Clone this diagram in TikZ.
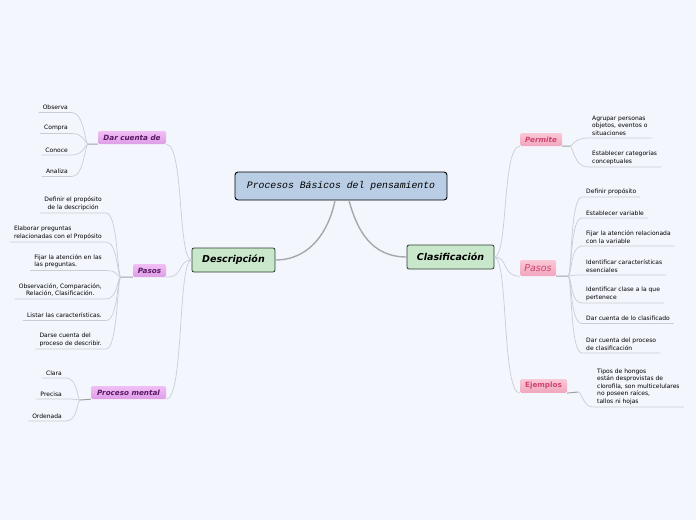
\documentclass[tikz,border=0pt]{standalone}
\usepackage{fontspec}
\setmainfont{DejaVu Sans}[ItalicFont={DejaVu Sans Oblique},BoldFont={DejaVu Sans Bold},BoldItalicFont={DejaVu Sans Bold Oblique}]
\newfontfamily\rootfont{Liberation Mono}
\usetikzlibrary{positioning}

\definecolor{bgcol}{RGB}{244,246,254}
\definecolor{rootfill}{RGB}{185,205,229}
\definecolor{mainfill}{RGB}{201,232,203}
\definecolor{mainedge}{RGB}{45,60,45}
\definecolor{subtop}{RGB}{242,190,246}
\definecolor{subbot}{RGB}{221,158,230}
\definecolor{subtext}{RGB}{88,24,98}
\definecolor{rsubtop}{RGB}{250,200,214}
\definecolor{rsubbot}{RGB}{240,166,190}
\definecolor{rsubtext}{RGB}{208,66,112}
\definecolor{trunkgray}{RGB}{168,168,172}
\definecolor{twiggray}{RGB}{204,204,212}
\definecolor{stubgray}{RGB}{160,160,164}

\begin{document}
\begin{tikzpicture}[x=1pt, y=-1pt,
      topbox/.style={draw=black, line width=0.9pt, fill=rootfill, rounded corners=3pt,
                     minimum width=212pt, minimum height=28pt,
                     font=\rootfont\itshape\fontsize{9.8}{11}\selectfont},        % central idea
      mainbox/.style={draw=mainedge, line width=0.8pt, fill=mainfill, rounded corners=2pt,
                      minimum height=24pt, font=\bfseries\itshape\fontsize{9.5}{11}\selectfont},
      subbox/.style={top color=subtop, bottom color=subbot, rounded corners=1.5pt,
                     minimum height=13pt, inner xsep=2pt, text=subtext,
                     font=\bfseries\itshape\fontsize{7.2}{8}\selectfont},          % left branches
      rsubbox/.style={subbox, top color=rsubtop, bottom color=rsubbot, text=rsubtext}, % right branches
      leaf/.style={inner xsep=4pt, inner ysep=2.5pt, font=\fontsize{6}{7.5}\selectfont},
      trunk/.style={draw=trunkgray, line width=1.4pt},
      twig/.style={draw=twiggray, line width=0.7pt},
      stub/.style={draw=stubgray, line width=1pt}]
    \fill[bgcol] (0,0) rectangle (696,520);
    \useasboundingbox (0,0) rectangle (696,520);

    % centre and the two main ideas
    \node[topbox]                           (top)  at (341,186)   {Procesos Básicos del pensamiento};
    \node[mainbox, minimum width=83pt]      (desc) at (233.5,260) {Descripción};
    \node[mainbox, minimum width=87pt]      (clas) at (450.5,257) {Clasificación};

    % branches
    \node[subbox, minimum width=68pt]       (darc) at (132,137.5) {Dar cuenta de};
    \node[subbox, minimum width=33pt]       (pasl) at (149.5,270.5) {Pasos};
    \node[subbox, minimum width=75pt]       (proc) at (128.5,392.5) {Proceso mental};
    \node[rsubbox, minimum width=42pt]      (perm) at (541,139.5) {Permite};
    \node[rsubbox, minimum width=36pt, minimum height=16pt,
          font=\itshape\fontsize{9.5}{11}\selectfont] (pasr) at (538,268) {Pasos};
    \node[rsubbox, minimum width=47pt, minimum height=12pt,
          font=\bfseries\fontsize{7.2}{8}\selectfont] (ejem) at (543.5,386) {Ejemplos};

    % leaves: Dar cuenta de
    \node[leaf, anchor=south east] (dc1) at (72,112.5) {Observa};
    \node[leaf, anchor=south east] (dc2) at (72,133.5) {Compra};
    \node[leaf, anchor=south east] (dc3) at (72,155)   {Conoce};
    \node[leaf, anchor=south east] (dc4) at (72,176.5) {Analiza};

    % leaves: Pasos (Descripción)
    \node[leaf, anchor=south east, align=center] (pl1) at (106,213)   {Definir el propósito\\de la descripción};
    \node[leaf, anchor=south east, align=left]   (pl2) at (106,242)   {Elaborar preguntas\\relacionadas con el Propósito};
    \node[leaf, anchor=south east, align=left]   (pl3) at (106,270.5) {Fijar la atención en las\\las preguntas.};
    \node[leaf, anchor=south east, align=center] (pl4) at (106,299)   {Observación, Comparación,\\Relación, Clasificación.};
    \node[leaf, anchor=south east]               (pl5) at (106,320.5) {Listar las características.};
    \node[leaf, anchor=south east, align=left]   (pl6) at (106,349)   {Darse cuenta del\\proceso de describir.};

    % leaves: Proceso mental
    \node[leaf, anchor=south east] (pm1) at (66,378) {Clara};
    \node[leaf, anchor=south east] (pm2) at (66,399) {Precisa};
    \node[leaf, anchor=south east] (pm3) at (66,421) {Ordenada};

    % leaves: Permite
    \node[leaf, anchor=south west, align=left] (pe1) at (588,138) {Agrupar personas\\objetos, eventos o\\situaciones};
    \node[leaf, anchor=south west, align=left] (pe2) at (588,167) {Establecer categorías\\conceptuales};

    % leaves: Pasos (Clasificación)
    \node[leaf, anchor=south west]             (pr1) at (582,197)   {Definir propósito};
    \node[leaf, anchor=south west]             (pr2) at (582,218)   {Establecer variable};
    \node[leaf, anchor=south west, align=left] (pr3) at (582,246)   {Fijar la atención relacionada\\con la variable};
    \node[leaf, anchor=south west, align=left] (pr4) at (582,275)   {Identificar características\\esenciales};
    \node[leaf, anchor=south west, align=left] (pr5) at (582,303)   {Identificar clase a la que\\pertenece};
    \node[leaf, anchor=south west]             (pr6) at (582,323.5) {Dar cuenta de lo clasificado};
    \node[leaf, anchor=south west, align=left] (pr7) at (582,353)   {Dar cuenta del proceso\\de clasificación};

    % leaf: Ejemplos
    \node[leaf, anchor=south west, align=left] (ej1) at (593,407) {Tipos de hongos\\están desprovistas de\\clorofila, son multicelulares\\no poseen raíces,\\tallos ni hojas};

    % junctions next to the branch boxes
    \coordinate (jdarc) at (88,144);
    \coordinate (jpasl) at (121,277);
    \coordinate (jproc) at (80,400);
    \coordinate (jperm) at (570,146);
    \coordinate (jpasr) at (568,276);
    \coordinate (jejem) at (578,392);

    % connectors
    \draw[trunk] ([xshift=-6pt]top.south) .. controls +(-6,30) and +(35,0) .. (desc.east);
    \draw[trunk] ([xshift=8pt]top.south) .. controls +(8,30) and +(-35,0) .. (clas.west);
    \foreach \s in {darc,pasl,proc}
      \draw[twig] (desc.west) .. controls +(-14,0) and +(18,0) .. (\s.south east);
    \foreach \s in {perm,pasr,ejem}
      \draw[twig] (clas.east) .. controls +(14,0) and +(-18,0) .. (\s.south west);

    \draw[stub] (darc.south west) -- (jdarc);
    \foreach \l in {dc1,dc2,dc3,dc4}
      \draw[twig] (jdarc) .. controls +(-3,0) and +(12,0) .. (\l.south east) -- (\l.south west);
    \draw[stub] (pasl.south west) -- (jpasl);
    \foreach \l in {pl1,pl2,pl3,pl4,pl5,pl6}
      \draw[twig] (jpasl) .. controls +(-4,0) and +(12,0) .. (\l.south east) -- (\l.south west);
    \draw[stub] (proc.south west) -- (jproc);
    \foreach \l in {pm1,pm2,pm3}
      \draw[twig] (jproc) .. controls +(-3,0) and +(12,0) .. (\l.south east) -- (\l.south west);

    \draw[stub] (perm.south east) -- (jperm);
    \foreach \l in {pe1,pe2}
      \draw[twig] (jperm) .. controls +(3,0) and +(-14,0) .. (\l.south west) -- (\l.south east);
    \draw[stub] (pasr.south east) -- (jpasr);
    \foreach \l in {pr1,pr2,pr3,pr4,pr5,pr6,pr7}
      \draw[twig] (jpasr) .. controls +(4,0) and +(-12,0) .. (\l.south west) -- (\l.south east);
    \draw[stub] (ejem.south east) -- (jejem);
    \draw[twig] (jejem) .. controls +(4,0) and +(-10,0) .. (ej1.south west) -- (ej1.south east);
  \end{tikzpicture}
\end{document}
